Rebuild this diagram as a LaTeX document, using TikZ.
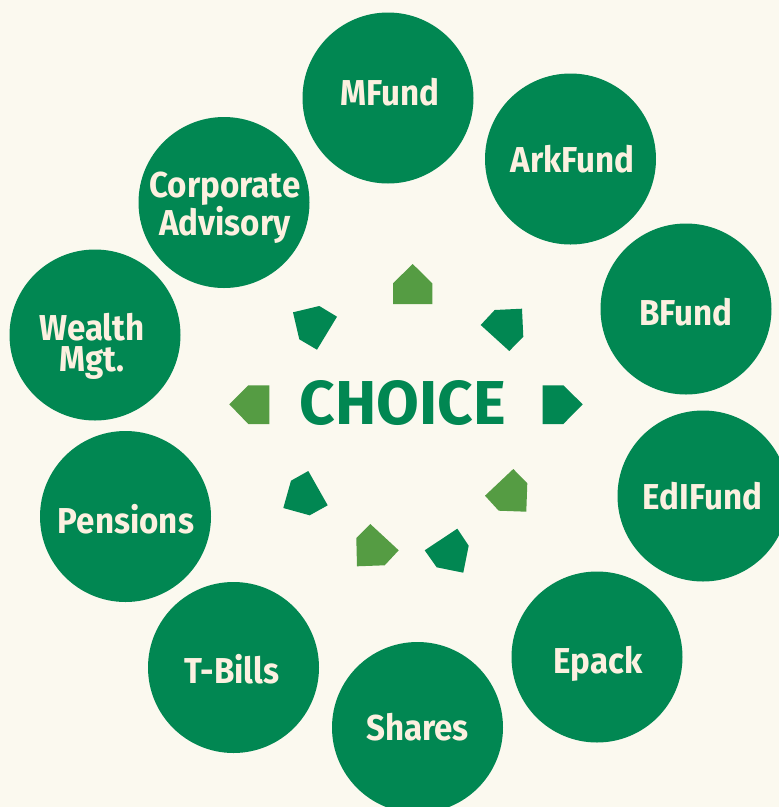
\documentclass[tikz,border=0pt]{standalone}
\usepackage{fontspec}
\setmainfont{Fira Sans}[FakeStretch=0.92]
\newfontfamily\hubfont{Fira Sans}
\definecolor{paper}{HTML}{FBF9EF}
\definecolor{deepgreen}{HTML}{018752}
\definecolor{leafgreen}{HTML}{559C43}
\definecolor{cream}{HTML}{FCF0E0}
\tikzset{
  bubble/.style={circle, fill=deepgreen, minimum size=171pt, inner sep=0pt},
  lbl/.style={text=cream, font=\bfseries\fontsize{36}{31}\selectfont, anchor=base, inner sep=0pt, align=center},
  hub/.style={text=deepgreen, font=\hubfont\bfseries\fontsize{62}{62}\selectfont, anchor=base, inner sep=0pt},
  darktip/.style={fill=deepgreen},
  lighttip/.style={fill=leafgreen}
}
\begin{document}
\begin{tikzpicture}[x=1pt, y=-1pt]
\fill[paper] (0,0) rectangle (779,807);
\useasboundingbox (0,0) rectangle (779,807);

% ring of service bubbles
\node[bubble] (mfund) at (388,98) {};
\node[bubble] (arkfund) at (570.5,159) {};
\node[bubble] (bfund) at (686,309) {};
\node[bubble] (edifund) at (703,496) {};
\node[bubble] (epack) at (597,657) {};
\node[bubble] (shares) at (417.5,727.5) {};
\node[bubble] (tbills) at (233.5,667.5) {};
\node[bubble] (pensions) at (125.5,516.5) {};
\node[bubble] (wealth) at (95,335) {};
\node[bubble] (corporate) at (224,202.5) {};

% bubble captions (two-line captions sit on the baseline of their last line)
\node[lbl] (mfundtxt) at (390,105) {MFund};
\node[lbl] (arkfundtxt) at (572.5,172.7) {ArkFund};
\node[lbl] (bfundtxt) at (686,325) {BFund};
\node[lbl] (edifundtxt) at (702.5,509) {EdIFund};
\node[lbl] (epacktxt) at (598,673) {Epack};
\node[lbl] (sharestxt) at (417.5,740) {Shares};
\node[lbl] (tbillstxt) at (232,683) {T-Bills};
\node[lbl] (pensionstxt) at (126,533) {Pensions};
\node[lbl] (wealthtxt) at (92,371.5) {Wealth\\Mgt.};
\node[lbl] (corporatetxt) at (225,235.5) {Corporate\\Advisory};

% centre word
\node[hub] (choice) at (403,424.3) {CHOICE};

% pointers radiating from the centre
\fill[lighttip] (412.7,264) -- (432.3,283.3) -- (432.3,304) -- (393,304) -- (393,283.3) -- cycle;
\fill[darktip] (480.7,325) -- (494.7,310) -- (522,308.7) -- (523.3,336.7) -- (509.3,351) -- cycle;
\fill[darktip] (542.7,385.3) -- (563.3,385.3) -- (582.7,404.3) -- (563.3,424) -- (542.7,424) -- cycle;
\fill[lighttip] (513.3,469) -- (527.3,483.3) -- (526.3,511.7) -- (498.7,510.7) -- (485,495.7) -- cycle;
\fill[darktip] (457.3,528.7) -- (468.7,545.7) -- (463.3,572.7) -- (436.7,567.3) -- (424.7,550.3) -- cycle;
\fill[lighttip] (370.3,524) -- (398.7,550.3) -- (384.7,565.3) -- (357,566.3) -- (356.3,538) -- cycle;
\fill[darktip] (308.3,471) -- (327.7,505.3) -- (309.7,515.3) -- (283.3,508) -- (291,480.7) -- cycle;
\fill[lighttip] (229.3,404.3) -- (248.3,385.3) -- (269.3,385.3) -- (269.3,424) -- (248.3,424) -- cycle;
\fill[darktip] (293,312.3) -- (319.3,306) -- (337,316.7) -- (317,349.7) -- (299.3,339.3) -- cycle;
\end{tikzpicture}
\end{document}
